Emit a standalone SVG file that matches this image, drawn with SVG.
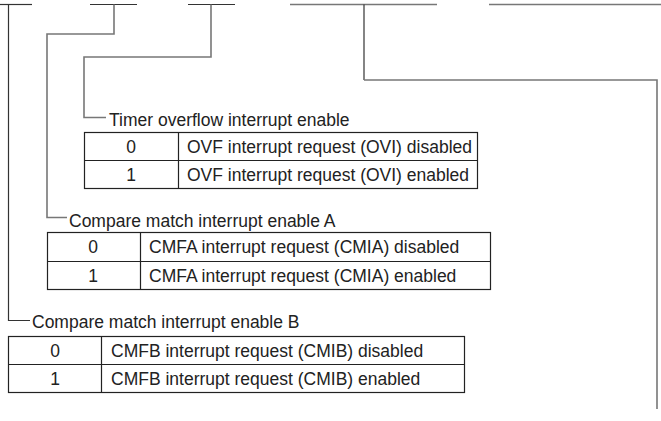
<svg xmlns="http://www.w3.org/2000/svg" width="661" height="421" viewBox="0 0 661 421">
<style>
.ln{fill:none;stroke:#333;stroke-width:1.2}
.lg{fill:none;stroke:#777;stroke-width:1.6}
.tb{fill:#fff;stroke:#222;stroke-width:1.2}
text{font-family:"Liberation Sans",Arial,sans-serif;font-size:17.5px;fill:#222}
.c{text-anchor:middle}
</style>
<g id="connectors">
<path class="ln" d="M0 4.5H32"/>
<path class="ln" d="M90 4.5H137"/>
<path class="ln" d="M188 4.5H235"/>
<path class="lg" d="M290 4.5H437"/>
<path class="lg" d="M489 4.5H661"/>
<path class="ln" d="M8.5 4.5V320.5H30"/>
<path class="lg" d="M114 4.5V34H47V217.5H67"/>
<path class="lg" d="M211 4.5V57H84V117.5H106"/>
<path class="ln" d="M364 4.5V80"/>
<path class="lg" d="M364 80H657V409"/>
</g>
<g id="ovie">
<text x="109" y="126">Timer overflow interrupt enable</text>
<rect class="tb" x="84.5" y="132.5" width="393" height="56"/>
<path class="tb" d="M84.5 160.5H477.5M178.5 132.5V188.5"/>
<text class="c" x="131" y="153">0</text>
<text x="187" y="153">OVF interrupt request (OVI) disabled</text>
<text class="c" x="131" y="181">1</text>
<text x="187" y="181">OVF interrupt request (OVI) enabled</text>
</g>
<g id="ciea">
<text x="69" y="227">Compare match interrupt enable A</text>
<rect class="tb" x="47.5" y="232.5" width="443" height="57"/>
<path class="tb" d="M47.5 261.5H490.5M140.5 232.5V289.5"/>
<text class="c" x="93" y="253">0</text>
<text x="149" y="253">CMFA interrupt request (CMIA) disabled</text>
<text class="c" x="93" y="282">1</text>
<text x="149" y="282">CMFA interrupt request (CMIA) enabled</text>
</g>
<g id="cieb">
<text x="32" y="328">Compare match interrupt enable B</text>
<rect class="tb" x="8.5" y="336.5" width="456" height="56"/>
<path class="tb" d="M8.5 364.5H464.5M101.5 336.5V392.5"/>
<text class="c" x="55" y="357">0</text>
<text x="111" y="357">CMFB interrupt request (CMIB) disabled</text>
<text class="c" x="55" y="385">1</text>
<text x="111" y="385">CMFB interrupt request (CMIB) enabled</text>
</g>
</svg>
